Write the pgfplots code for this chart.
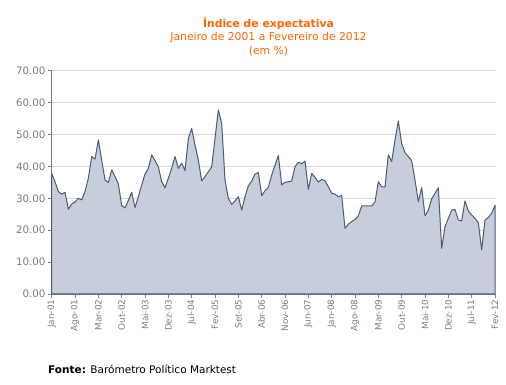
\documentclass[border=0pt]{standalone}
\usepackage{pgfplots}
\pgfplotsset{compat=1.18}
\usepackage{pgfplotstable}
\usepackage{fontspec}
\setmainfont{DejaVu Sans}
\definecolor{areafill}{RGB}{197,206,218}
\definecolor{linecol}{RGB}{75,92,118}
\definecolor{titleor}{RGB}{255,102,0}
\definecolor{ticklab}{RGB}{118,124,138}
\definecolor{gridc}{RGB}{217,217,217}
\definecolor{axc}{RGB}{128,128,128}
\pgfplotstableread{
i v
0 37.8
1 35.2
2 32.1
3 31.3
4 31.9
5 26.6
6 28.2
7 28.9
8 30.0
9 29.5
10 32.1
11 36.3
12 43.1
13 42.3
14 48.3
15 42.0
16 35.7
17 35.0
18 38.9
19 36.8
20 34.5
21 27.7
22 27.0
23 29.3
24 31.9
25 27.1
26 30.5
27 34.2
28 37.6
29 39.4
30 43.6
31 41.8
32 39.9
33 35.2
34 33.3
35 36.3
36 39.4
37 43.1
38 39.4
39 41.0
40 38.7
41 48.8
42 51.9
43 46.7
44 42.0
45 35.4
46 36.8
47 38.3
48 39.9
49 48.8
50 57.7
51 53.5
52 35.7
53 30.0
54 28.1
55 29.2
56 30.5
57 26.3
58 30.5
59 33.9
60 35.4
61 37.6
62 38.1
63 30.8
64 32.4
65 33.4
66 37.3
67 40.4
68 43.4
69 34.2
70 35.0
71 35.2
72 35.4
73 39.9
74 41.3
75 40.8
76 41.7
77 32.8
78 37.8
79 36.6
80 35.1
81 35.9
82 35.5
83 33.6
84 31.6
85 31.3
86 30.5
87 30.9
88 20.6
89 21.9
90 22.7
91 23.4
92 24.5
93 27.6
94 27.6
95 27.6
96 27.6
97 28.9
98 35.2
99 33.6
100 33.6
101 43.6
102 41.5
103 48.3
104 54.2
105 47.2
106 44.3
107 43.1
108 41.8
109 35.7
110 28.9
111 33.4
112 24.5
113 26.3
114 29.8
115 31.6
116 33.3
117 14.3
118 21.1
119 23.7
120 26.3
121 26.5
122 23.2
123 22.9
124 29.2
125 26.0
126 24.8
127 23.7
128 22.4
129 13.8
130 23.2
131 24.0
132 25.3
133 27.8
}\datatable
\begin{document}
\begin{tikzpicture}
\useasboundingbox (0pt,0pt) rectangle (506pt,385pt);
\begin{axis}[
  at={(51.7pt,91pt)}, anchor=south west,
  scale only axis, width=443.3pt, height=223.3pt,
  xmin=0, xmax=133, ymin=0, ymax=70,
  axis x line*=bottom, axis y line*=left,
  axis line style={draw=axc, line width=0.8pt, -},
  xtick={0,7,...,133},
  xticklabels={Jan-01,Ago-01,Mar-02,Out-02,Mai-03,Dez-03,Jul-04,Fev-05,Set-05,Abr-06,Nov-06,Jun-07,Jan-08,Ago-08,Mar-09,Out-09,Mai-10,Dez-10,Jul-11,Fev-12},
  xticklabel style={rotate=90, anchor=east, font=\fontsize{8.8}{10}\selectfont, text=ticklab, inner sep=1.5pt},
  ytick={0,10,...,70},
  yticklabel style={font=\fontsize{10.3}{12}\selectfont, text=ticklab, inner sep=2pt},
  /pgf/number format/.cd, fixed, fixed zerofill, precision=2, assume math mode=true,
  /pgfplots/.cd,
  tick align=outside, major tick length=4pt,
  tick style={draw=axc, line width=0.8pt},
  ymajorgrids, grid style={draw=gridc, line width=0.8pt},
  clip=false,
]
\addplot[fill=areafill, draw=linecol, line width=1pt, line join=round] table[x=i, y=v] {\datatable} \closedcycle;
\end{axis}
\node[text=titleor, font=\bfseries\fontsize{10.8}{12}\selectfont] at (268.5pt,361pt) {Índice de expectativa};
\node[text=titleor, font=\fontsize{10.8}{12}\selectfont] at (268.5pt,347.5pt) {Janeiro de 2001 a Fevereiro de 2012};
\node[text=titleor, font=\fontsize{10.8}{12}\selectfont] at (268.5pt,334pt) {(em \%)};
\node[anchor=west, inner sep=0pt, font=\fontsize{10.5}{12}\selectfont] at (48pt,16pt) {\textbf{Fonte:} Barómetro Político Marktest};
\end{tikzpicture}
\end{document}
